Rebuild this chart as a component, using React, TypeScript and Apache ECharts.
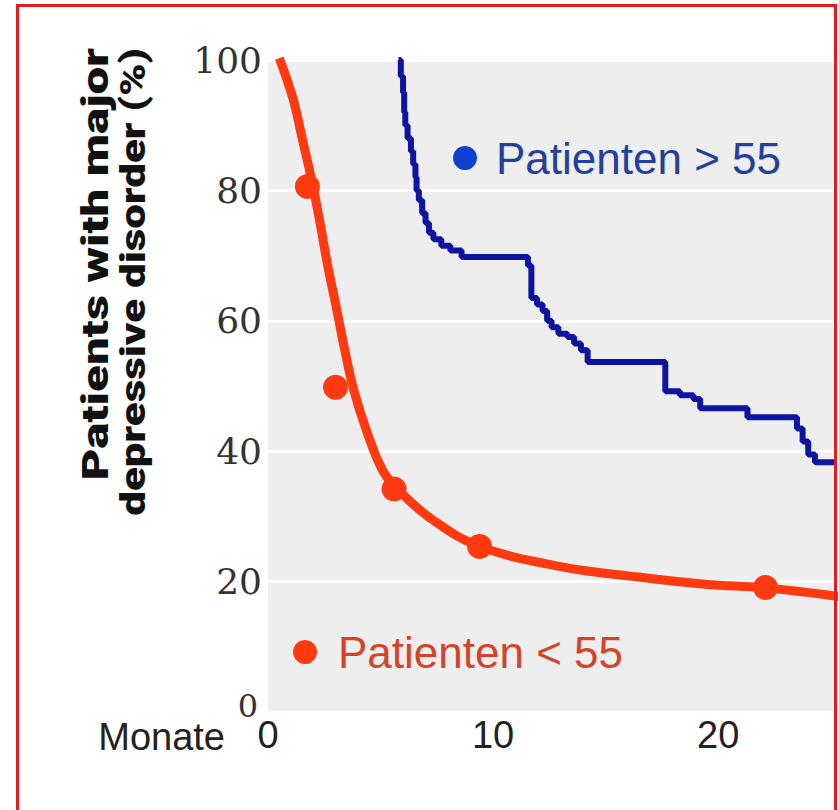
import React, { useEffect, useRef } from "react";
import * as echarts from "echarts";

// ---- Data ----
const fitLowX: number[] = [0.5, 1.1, 1.55, 1.95, 2.3, 2.65, 3.05, 3.4, 3.8, 4.4, 5.1, 5.8, 7.3, 9.4, 13, 16.2, 19.4, 22.2, 25.4];
const fitLowY: number[] = [100.3, 94.2, 87.5, 81.4, 75.2, 68.5, 61.8, 55.7, 49.5, 42.9, 37, 34, 29.5, 25.4, 22.3, 20.8, 19.6, 19.0, 17.7];

const pointsLowX: number[] = [1.75, 3.0, 5.6, 9.4, 22.1];
const pointsLowY: number[] = [80.6, 49.8, 34.2, 25.4, 19.1];

const kmHighX: number[] = [5.8, 5.9, 6.0, 6.05, 6.1, 6.2, 6.35, 6.45, 6.55, 6.6, 6.7, 6.85, 7.0, 7.15, 7.35, 7.7, 8.1, 8.6, 11.55, 11.7, 11.95, 12.2, 12.4, 12.6, 12.9, 13.3, 13.6, 13.9, 14.2, 17.65, 18.3, 18.9, 19.2, 21.3, 23.5, 23.75, 24.0, 24.3, 25.5];
const kmHighY: number[] = [100, 97.5, 95, 92, 90, 88, 86, 84, 82, 80, 78.5, 76.5, 75, 73.5, 72.5, 71.5, 70.8, 69.8, 68.5, 63.5, 62.5, 61.5, 60, 59, 58, 57.5, 56.5, 55.5, 53.7, 49.2, 48.6, 48, 46.6, 45.2, 43.5, 41.5, 39.5, 38.3, 38.3];

const nameHigh = "Patienten > 55";
const nameLow = "Patienten < 55";
const xName = "Monate";
const yTitleLine1 = "Patients with major";
const yTitleLine2 = "depressive disorder (%)";

const RED = "#ff3a10";
const BLUE_LINE = "#0c14a0";

export default function App() {
  const ref = useRef<HTMLDivElement>(null);

  useEffect(() => {
    if (!ref.current) return;
    const chart = echarts.init(ref.current, undefined, { renderer: "svg" });

    const fitData = fitLowX.map((x, i) => [x, fitLowY[i]]);
    const ptsData = pointsLowX.map((x, i) => [x, pointsLowY[i]]);
    const kmData = kmHighX.map((x, i) => [x, kmHighY[i]]);

    const titleStyle = {
      fontSize: 36,
      fontWeight: 900,
      fontFamily: "Roboto, sans-serif",
      lineHeight: 37,
      align: "right",
      verticalAlign: "top",
      fill: "#111111",
    };

    chart.setOption({
      animation: false,
      backgroundColor: "#ffffff",
      grid: {
        left: 268,
        top: 60,
        width: 565,
        height: 652,
        show: true,
        backgroundColor: "#eeeeee",
        borderWidth: 0,
        containLabel: false,
        outerBoundsMode: "none",
      },
      xAxis: {
        type: "value",
        min: 0,
        max: 25.1,
        interval: 10,
        axisLine: { show: false },
        axisTick: { show: false },
        splitLine: { show: false },
        axisLabel: {
          margin: 4,
          fontSize: 38,
          lineHeight: 38,
          fontFamily: "'Liberation Sans', Arial, sans-serif",
          color: "#222",
          showMaxLabel: false,
        },
        name: xName,
        nameLocation: "start",
        nameGap: 43,
        nameTextStyle: {
          fontSize: 38,
          lineHeight: 38,
          fontFamily: "'Liberation Sans', Arial, sans-serif",
          color: "#222",
          verticalAlign: "top",
          padding: [6, 0, 0, 0],
        },
      },
      yAxis: {
        type: "value",
        min: 0,
        max: 100,
        interval: 20,
        axisLine: { show: false },
        axisTick: { show: false },
        splitLine: { show: true, lineStyle: { color: "#ffffff", width: 3 } },
        axisLabel: {
          margin: 6,
          fontSize: 36,
          fontFamily: "'DejaVu Serif', serif",
          color: "#333",
          formatter: (v: number) => (v === 0 ? "{z|0}" : String(v)),
          rich: {
            z: {
              fontSize: 32,
              fontFamily: "'DejaVu Serif', serif",
              color: "#333",
              padding: [0, 4, 12, 0],
            },
          },
        },
      },
      legend: [
        {
          data: [{ name: nameHigh, itemStyle: { color: "#1040d0" } }],
          left: 453,
          top: 136,
          icon: "circle",
          itemWidth: 24,
          itemHeight: 24,
          padding: 0,
          selectedMode: false,
          textStyle: {
            fontSize: 44,
            lineHeight: 44,
            fontFamily: "'Liberation Sans', Arial, sans-serif",
            color: "#23409c",
            padding: [0, 0, 0, 14],
          },
        },
        {
          data: [{ name: nameLow, itemStyle: { color: RED } }],
          left: 293,
          top: 630,
          icon: "circle",
          itemWidth: 24,
          itemHeight: 24,
          padding: 0,
          selectedMode: false,
          textStyle: {
            fontSize: 44,
            lineHeight: 44,
            fontFamily: "'Liberation Sans', Arial, sans-serif",
            color: "#d2452a",
            padding: [0, 0, 0, 16],
          },
        },
      ],
      series: [
        {
          name: nameHigh,
          type: "line",
          step: "end",
          data: kmData,
          showSymbol: false,
          symbol: "none",
          clip: true,
          lineStyle: { color: BLUE_LINE, width: 6 },
          itemStyle: { color: BLUE_LINE },
          z: 3,
        },
        {
          name: "fit",
          type: "line",
          data: fitData,
          smooth: 0.4,
          showSymbol: false,
          symbol: "none",
          clip: true,
          lineStyle: { color: RED, width: 9 },
          itemStyle: { color: RED },
          z: 4,
        },
        {
          name: nameLow,
          type: "scatter",
          data: ptsData,
          symbol: "circle",
          symbolSize: 25,
          itemStyle: { color: RED, opacity: 1 },
          z: 5,
        },
      ],
      graphic: [
        {
          type: "text",
          x: 77,
          y: 48,
          rotation: Math.PI / 2,
          scaleX: 1.37,
          silent: true,
          style: { ...titleStyle, text: yTitleLine1 },
        },
        {
          type: "text",
          x: 114,
          y: 48,
          rotation: Math.PI / 2,
          scaleX: 1.22,
          silent: true,
          style: { ...titleStyle, text: yTitleLine2 },
        },
        {
          type: "rect",
          silent: true,
          z: 100,
          shape: { x: 17.5, y: 5.5, width: 818, height: 900 },
          style: { fill: "none", stroke: "#e31b1b", lineWidth: 3 },
        },
      ],
    });

    return () => chart.dispose();
  }, []);

  return (
    <div
      ref={ref}
      style={{ position: "fixed", left: 0, top: 0, width: 839, height: 810 }}
    />
  );
}
